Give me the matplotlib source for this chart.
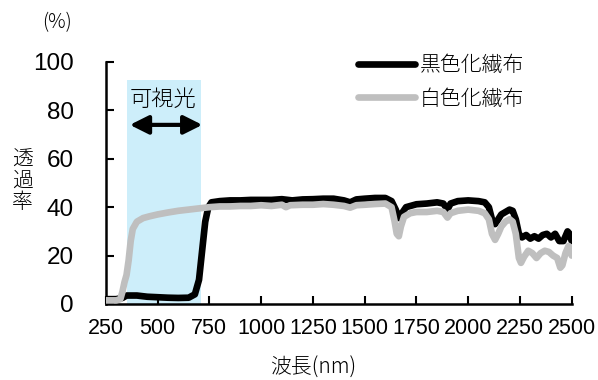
import matplotlib
matplotlib.use('Agg')
import matplotlib.pyplot as plt

plt.rcParams['font.family'] = ['Noto Sans CJK JP', 'DejaVu Sans']
plt.rcParams['font.weight'] = 'light'

# 黒色化繊布 (波長, 透過率)
kuro_nm = [250, 300, 330, 350, 400, 450, 500, 550, 600, 650, 680, 700, 715, 730, 745, 760,
           800, 850, 900, 950, 1000, 1050, 1100, 1150, 1200, 1250, 1300, 1350, 1400, 1430,
           1460, 1500, 1550, 1600, 1630, 1650, 1665, 1680, 1700, 1750, 1800, 1850, 1880,
           1900, 1915, 1950, 2000, 2050, 2080, 2100, 2115, 2130, 2145, 2160, 2180, 2200,
           2215, 2230, 2245, 2260, 2280, 2300, 2320, 2340, 2360, 2380, 2400, 2420, 2440,
           2460, 2480, 2490, 2500]
kuro_t = [2.0, 2.0, 2.5, 3.5, 3.5, 3.0, 2.8, 2.6, 2.5, 2.6, 4.0, 10.0, 22.0, 34.0, 40.0, 42.0,
          42.5, 42.8, 42.8, 43.0, 43.0, 43.0, 43.3, 42.8, 43.2, 43.3, 43.5, 43.5, 42.8, 42.0,
          43.2, 43.5, 43.8, 43.8, 42.5, 39.0, 35.5, 37.5, 40.0, 41.2, 41.5, 42.0, 41.5,
          39.0, 41.5, 42.5, 42.8, 42.5, 42.0, 40.0, 35.0, 33.0, 35.0, 37.0, 38.0, 39.0,
          38.5, 35.0, 29.0, 27.5, 28.5, 27.0, 28.0, 27.0, 28.5, 29.0, 27.5, 29.0, 26.0,
          26.0, 30.0, 29.0, 26.0]

# 白色化繊布 (波長, 透過率)
shiro_nm = [250, 300, 320, 330, 340, 350, 360, 370, 380, 400, 430, 460, 500, 550, 600, 650,
            700, 750, 800, 850, 900, 950, 1000, 1050, 1100, 1120, 1140, 1200, 1250, 1300,
            1350, 1400, 1430, 1460, 1500, 1550, 1600, 1630, 1645, 1655, 1665, 1675, 1690,
            1720, 1750, 1800, 1850, 1880, 1900, 1915, 1950, 2000, 2050, 2080, 2100, 2115,
            2130, 2145, 2160, 2180, 2200, 2215, 2230, 2245, 2255, 2270, 2290, 2310, 2330,
            2350, 2370, 2390, 2410, 2430, 2445, 2455, 2470, 2485, 2500]
shiro_t = [1.5, 1.5, 2.0, 5.0, 9.0, 12.0, 18.0, 26.0, 31.0, 34.0, 35.5, 36.2, 37.0, 37.8, 38.5, 39.0,
           39.5, 40.0, 40.3, 40.3, 40.5, 40.5, 40.8, 40.5, 41.0, 40.0, 40.8, 41.0, 41.0, 41.3,
           41.0, 40.5, 39.8, 40.8, 41.0, 41.3, 41.5, 40.0, 34.0, 29.0, 28.0, 32.0, 36.0,
           37.5, 38.0, 38.0, 38.5, 38.0, 35.7, 37.5, 38.5, 39.0, 38.5, 37.5, 35.0, 29.0,
           26.5, 29.0, 32.0, 34.0, 35.0, 34.0, 29.0, 19.0, 17.0, 19.5, 22.0, 21.0, 19.0,
           21.0, 22.0, 21.5, 20.0, 19.0, 15.0, 16.0, 21.0, 24.0, 20.0]

# 可視光の範囲
kashi_min, kashi_max, kashi_top = 350, 712, 92.5

fig = plt.figure(figsize=(5.98, 3.8), dpi=100)
ax = fig.add_axes([0.177, 0.2, 0.779, 0.637])

ax.fill_between([kashi_min, kashi_max], 0, kashi_top, color='#cdeefa', lw=0, zorder=0)
ax.plot(kuro_nm, kuro_t, color='black', lw=4.8, solid_capstyle='round',
        solid_joinstyle='round', label='黒色化繊布', zorder=2)
ax.plot(shiro_nm, shiro_t, color='#bfbfbf', lw=4.8, solid_capstyle='round',
        solid_joinstyle='round', label='白色化繊布', zorder=3)

ax.annotate('', xy=(366, 74), xytext=(716, 74),
            arrowprops=dict(arrowstyle='<|-|>', color='black', lw=3,
                            mutation_scale=28, shrinkA=0, shrinkB=0))
ax.text((kashi_min + kashi_max) / 2 - 5, 84.3, '可視光', ha='center', va='center', fontsize=16)

ax.set_xlim(250, 2500)
ax.set_ylim(0, 100)
ax.set_xticks(range(250, 2501, 250))
ax.set_yticks(range(0, 101, 20))
ax.tick_params(direction='in', length=5.5, width=1.5)
ax.tick_params(axis='y', pad=23)
ax.tick_params(axis='x', pad=10)
for lbl in ax.get_yticklabels():
    lbl.set_family(['Liberation Sans', 'DejaVu Sans'])
    lbl.set_fontsize(17.5)
    lbl.set_fontweight('normal')
for lbl in ax.get_xticklabels():
    lbl.set_family(['Liberation Sans Narrow', 'Liberation Sans'])
    lbl.set_fontsize(15.5)
    lbl.set_fontweight('normal')
for s in ['top', 'right']:
    ax.spines[s].set_visible(False)
for s in ['left', 'bottom']:
    ax.spines[s].set_linewidth(1.8)

fig.text(0.523, 0.032, '波長(nm)', ha='center', va='center', fontsize=15)
fig.text(0.037, 0.525, '透\n過\n率', ha='center', va='center', fontsize=15, linespacing=0.95)
fig.text(0.095, 0.94, '(%)', ha='center', va='center', fontsize=14)

ax.legend(loc='upper left', bbox_to_anchor=(0.502, 1.109), frameon=False, fontsize=15,
          handlelength=2.7, handletextpad=0.25, labelspacing=0.55)

fig.savefig('out.png', dpi=100)
